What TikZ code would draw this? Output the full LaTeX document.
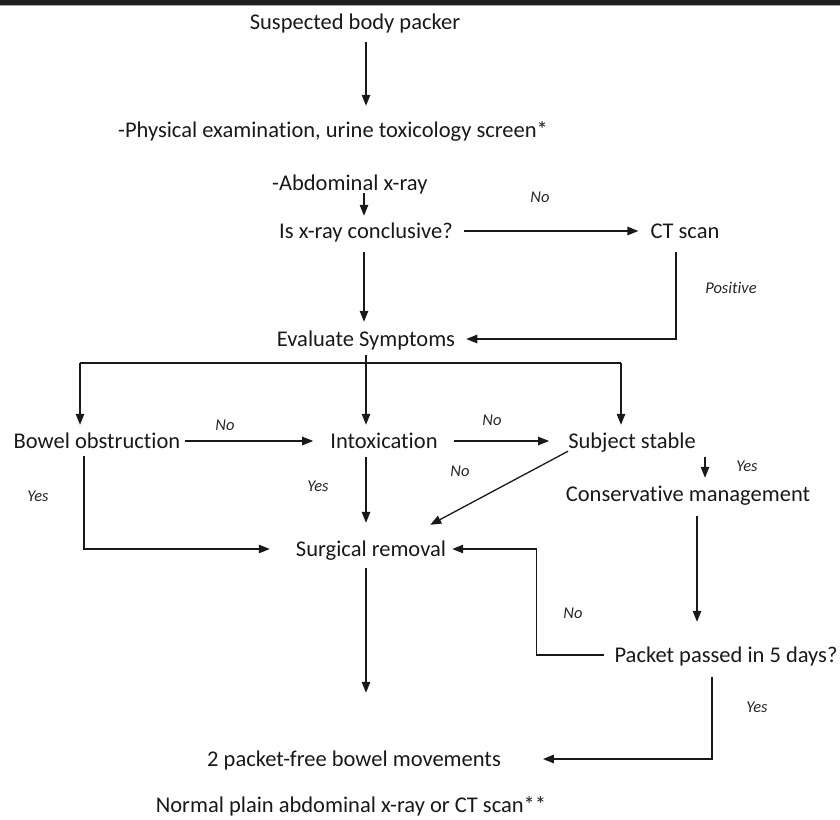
\documentclass[tikz,border=0pt]{standalone}
\usepackage{fontspec}
\setmainfont{Carlito}[Ligatures={NoCommon}]
\usetikzlibrary{arrows.meta,calc}
\begin{document}
\begin{tikzpicture}[x=1pt,y=-1pt,
  box/.style={font=\fontsize{22.5}{26}\selectfont, text=black!90, inner sep=0pt, text height=17pt, text depth=3pt},
  lab/.style={font=\fontsize{16.5}{19}\selectfont\itshape, text=black!85, inner sep=0pt},
  ln/.style={line width=1.3pt, draw=black!90},
  arr/.style={ln, -{Triangle[length=11pt,width=8.5pt]}}]
\useasboundingbox (0,0) rectangle (840,819);
\fill[black!88] (0,0) rectangle (840,4.5);
\draw[black!35, line width=0.8pt] (0,5) -- (840,5);

% nodes
\node[box] (sbp) at (355,22) {Suspected body packer};
\node[box] (pe) at (333,130) {-Physical examination, urine toxicology screen*};
\node[box, anchor=west] (ax) at (272,183) {-Abdominal x-ray};
\node[box] (isx) at (366,231) {Is x-ray conclusive?};
\node[box] (ct) at (685,231) {CT scan};
\node[box] (ev) at (366,339) {Evaluate Symptoms};
\node[box] (bo) at (97,441) {Bowel obstruction};
\node[box] (in) at (384,441) {Intoxication};
\node[box] (ss) at (632,441) {Subject stable};
\node[box] (cm) at (688,494) {Conservative management};
\node[box] (sr) at (371,549) {Surgical removal};
\node[box] (pp) at (726,655) {Packet passed in 5 days?};
\node[box] (bm) at (354,759) {2 packet-free bowel movements};
\node[box] (np) at (351,805) {Normal plain abdominal x-ray or CT scan**};

% labels
\node[lab] (l1) at (540,197) {No};
\node[lab] (l2) at (731,288) {Positive};
\node[lab] (l3) at (225,425) {No};
\node[lab] (l4) at (492,420) {No};
\node[lab] (l5) at (460,471) {No};
\node[lab] (l6) at (318,486) {Yes};
\node[lab] (l7) at (38,496) {Yes};
\node[lab] (l8) at (747,466) {Yes};
\node[lab] (l9) at (573,613) {No};
\node[lab] (l10) at (757,707) {Yes};

% column coordinates
\coordinate (c366) at (366,0);
\coordinate (bl) at (80,363);
\coordinate (brr) at (621,363);

% connectors
\draw[arr, shorten <=10pt, shorten >=14pt] (sbp.south -| c366) -- (pe.north -| c366);
\draw[arr, shorten >=5pt] ([xshift=92pt]ax.south west) -- ([xshift=-2pt]isx.north);
\draw[arr, shorten <=11pt, shorten >=12pt] (isx.east) -- (ct.west);
\draw[arr, shorten <=11pt, shorten >=7pt] ([xshift=-2pt]isx.south) -- ([xshift=-2pt]ev.north);
\draw[arr, shorten <=11pt, shorten >=11pt] ([xshift=-9pt]ct.south) |- (ev.east);
\draw[arr, shorten <=6pt, shorten >=6pt] (ev.south) -- (ev.south |- in.north);
\draw[ln] (bl) -- (brr);
\draw[arr, shorten >=6pt] (bl) -- (bl |- bo.north);
\draw[arr, shorten >=6pt] (brr) -- (brr |- ss.north);
\draw[arr, shorten <=5pt, shorten >=17pt] (bo.east) -- (in.west);
\draw[arr, shorten <=16pt, shorten >=19pt] (in.east) -- (ss.west);
\draw[arr, shorten <=6pt, shorten >=16pt] (c366 |- in.south) -- (c366 |- sr.north);
\draw[arr] (ss.south west) -- ([xshift=-16pt,yshift=14pt]sr.north east);
\draw[arr, shorten <=6pt, shorten >=6pt] ([xshift=73pt]ss.south) -- ([xshift=73pt]ss.south |- cm.north);
\draw[arr, shorten <=5pt, shorten >=26pt] ([xshift=-13pt]bo.south) |- (sr.west);
\draw[arr, shorten <=12pt, shorten >=23pt] ([xshift=9pt]cm.south) -- ([xshift=9pt]cm.south |- pp.north);
\draw[arr, shorten <=10pt, shorten >=6pt] (pp.west) -| ([xshift=90pt]sr.east) -- (sr.east);
\draw[arr, shorten <=12pt, shorten >=42pt] ([xshift=-14pt]pp.south) |- (bm.east);
\draw[arr, shorten <=9pt, shorten >=56pt] (c366 |- sr.south) -- (c366 |- bm.north);
\end{tikzpicture}
\end{document}
